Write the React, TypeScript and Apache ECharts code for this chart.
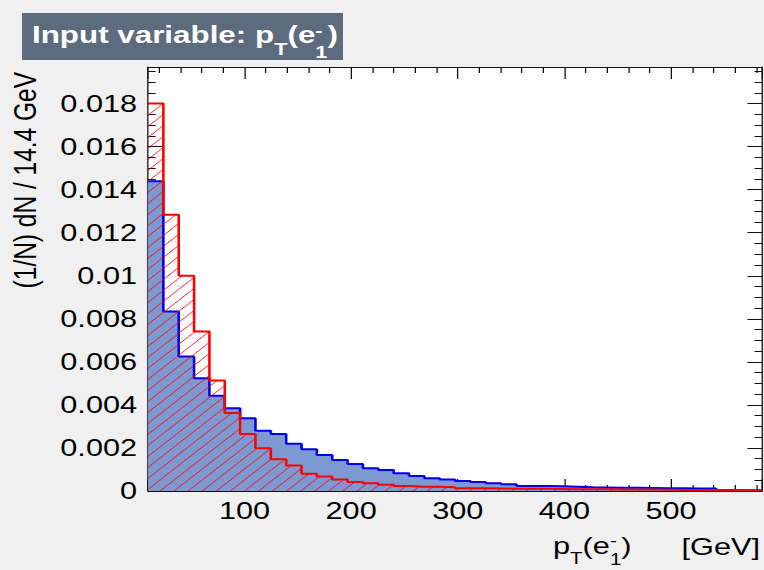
import React, { useEffect, useRef } from 'react';
import * as echarts from 'echarts';

// ---- Histogram definition (TMVA input-variable plot) ----
const X_MIN = 9.5;
const BIN_WIDTH = 14.4;
const N_BINS = 40;
const X_MAX = X_MIN + N_BINS * BIN_WIDTH;
const Y_MIN = 0;
const Y_MAX = 0.0197;
const Y_INTERVAL = 0.002;

// signal (blue, filled)
const signal = [
  0.01439, 0.00834, 0.00625, 0.00524, 0.00442, 0.00385, 0.00338, 0.0028, 0.00265, 0.00219,
  0.00194, 0.00167, 0.00144, 0.00126, 0.00106, 0.00098, 0.00082, 0.0007, 0.00059, 0.00054,
  0.00047, 0.00042, 0.00036, 0.00031, 0.00023, 0.00023, 0.00022, 0.0002, 0.00017, 0.00016,
  0.00015, 0.00015, 0.00014, 0.00013, 0.00013, 0.00012, 0.00012, 0.00005, 0.00004, 0.00004,
];
// background (red, hatched)
const background = [
  0.018, 0.01284, 0.01, 0.00741, 0.00513, 0.00362, 0.00265, 0.00199, 0.00148, 0.00118,
  0.0008, 0.00067, 0.00053, 0.00042, 0.00036, 0.00029, 0.00023, 0.0002, 0.0002, 0.00017,
  0.00013, 0.00013, 0.00012, 0.0001, 0.0001, 0.0001, 0.00009, 0.00008, 0.00008, 0.00008,
  0.00007, 0.00007, 0.00007, 0.00006, 0.00005, 0.00005, 0.00005, 0.00004, 0.00004, 0.00003,
];

const TITLE_MAIN = 'Input variable: p';
const Y_TITLE = '(1/N) dN / 14.4 GeV';
const X_UNIT = '[GeV]';

// ---- layout (the ROOT canvas is horizontally stretched) ----
const S = 1.28;
const PAGE_W = 764;
const PAGE_H = 570;
const W = PAGE_W / S;
const FONT = '"Liberation Sans", Arial, Helvetica, sans-serif';

const edges = Array.from({ length: N_BINS + 1 }, (_, i) => X_MIN + i * BIN_WIDTH);
const stepData = (vals: number[]) =>
  vals.map((v, i) => [edges[i], v]).concat([[edges[N_BINS], vals[N_BINS - 1]]]);

function hatchCanvas(d: number) {
  const c = document.createElement('canvas');
  c.width = d;
  c.height = d;
  const ctx = c.getContext('2d')!;
  ctx.strokeStyle = 'rgba(255,0,0,0.85)';
  ctx.lineWidth = 1;
  ctx.beginPath();
  ctx.moveTo(-1, d + 1);
  ctx.lineTo(d + 1, -1);
  ctx.moveTo(-1, 1);
  ctx.lineTo(1, -1);
  ctx.moveTo(d - 1, d + 1);
  ctx.lineTo(d + 1, d - 1);
  ctx.stroke();
  return c;
}

type Piece = { t: string; size: number; dy: number; advance?: boolean };

function textRow(pieces: Piece[], x0: number, base: number, color: string, bold: boolean) {
  const ctx = document.createElement('canvas').getContext('2d')!;
  const els: any[] = [];
  let x = x0;
  for (const p of pieces) {
    ctx.font = `${bold ? 'bold ' : ''}${p.size}px ${FONT}`;
    const w = ctx.measureText(p.t).width;
    els.push({
      type: 'text',
      x,
      y: base + p.dy - 0.3465 * p.size,
      silent: true,
      style: {
        text: p.t,
        fill: color,
        fontSize: p.size,
        fontWeight: bold ? 'bold' : 'normal',
        fontFamily: FONT,
        align: 'left',
        verticalAlign: 'middle',
      },
    });
    if (p.advance !== false) x += w;
  }
  return els;
}

const axisColor = '#111';

export default function App() {
  const ref = useRef<HTMLDivElement>(null);
  useEffect(() => {
    const chart = echarts.init(ref.current!, null, { renderer: 'svg' });
    const hd = 11;
    const pattern = { image: hatchCanvas(hd), repeat: 'repeat', imageWidth: hd, imageHeight: hd };

    const gridLeft = 148 / S;
    const gridRight = W - 762 / S;
    const gridTop = 67;
    const gridBottom = PAGE_H - 491;

    const xAxisBase = {
      type: 'value',
      min: X_MIN,
      max: X_MAX,
      splitNumber: 5,
      axisLine: { show: true, onZero: false, lineStyle: { color: axisColor, width: 1 } },
      axisTick: { show: true, inside: true, length: 12, lineStyle: { color: axisColor, width: 1 } },
      minorTick: { show: true, splitNumber: 5, length: 6, lineStyle: { color: axisColor, width: 1 } },
      splitLine: { show: false },
      minorSplitLine: { show: false },
    };
    const yAxisBase = {
      type: 'value',
      min: Y_MIN,
      max: Y_MAX,
      interval: Y_INTERVAL,
      axisLine: { show: true, onZero: false, lineStyle: { color: axisColor, width: 1 } },
      axisTick: { show: true, inside: true, length: 11.5, lineStyle: { color: axisColor, width: 1 } },
      minorTick: { show: true, splitNumber: 4, length: 6, lineStyle: { color: axisColor, width: 1 } },
      splitLine: { show: false },
      minorSplitLine: { show: false },
    };

    const titlePieces: Piece[] = [
      { t: TITLE_MAIN, size: 24.5, dy: 0 },
      { t: 'T', size: 17, dy: 12 },
      { t: '(e', size: 24.5, dy: 0 },
      { t: '-', size: 17, dy: -7, advance: false },
      { t: '1', size: 17, dy: 15 },
      { t: ')', size: 24.5, dy: 0 },
    ];
    const xTitlePieces: Piece[] = [
      { t: 'p', size: 24, dy: 0 },
      { t: 'T', size: 16, dy: 10 },
      { t: '(e', size: 24, dy: 0 },
      { t: '-', size: 16, dy: -8, advance: false },
      { t: '1', size: 16, dy: 10.5 },
      { t: ')', size: 24, dy: 0 },
    ];

    chart.setOption({
      animation: false,
      backgroundColor: '#f0f0f0',
      grid: {
        show: true,
        backgroundColor: '#ffffff',
        borderWidth: 0,
        left: gridLeft,
        right: gridRight,
        top: gridTop,
        bottom: gridBottom,
        containLabel: false,
      },
      xAxis: [
        {
          ...xAxisBase,
          position: 'bottom',
          axisLabel: {
            show: true,
            fontSize: 24,
            fontFamily: FONT,
            color: '#000',
            margin: 8,
            showMinLabel: false,
            showMaxLabel: false,
            formatter: (v: number) => (Math.abs(v % 100) < 1e-6 ? String(v) : ''),
          },
        },
        { ...xAxisBase, position: 'top', axisLabel: { show: false } },
      ],
      yAxis: [
        {
          ...yAxisBase,
          position: 'left',
          axisLabel: {
            show: true,
            fontSize: 24,
            fontFamily: FONT,
            color: '#000',
            margin: 8.5,
            showMaxLabel: false,
          },
        },
        { ...yAxisBase, position: 'right', axisLabel: { show: false } },
      ],
      series: [
        {
          name: 'Signal',
          type: 'line',
          step: 'end',
          data: stepData(signal),
          symbol: 'none',
          lineStyle: { color: '#0000ee', width: 2 },
          areaStyle: { color: '#7d99d1', opacity: 1 },
          z: 2,
        },
        {
          name: 'Background',
          type: 'line',
          step: 'end',
          data: stepData(background),
          symbol: 'none',
          lineStyle: { color: '#ff0000', width: 2 },
          areaStyle: { color: pattern, opacity: 1 },
          z: 3,
        },
      ],
      graphic: [
        {
          type: 'rect',
          silent: true,
          shape: { x: 22 / S, y: 13, width: 321 / S, height: 47 },
          style: { fill: '#5d6b7e' },
        },
        ...textRow(titlePieces, 32 / S, 43, '#ffffff', true),
        {
          type: 'text',
          silent: true,
          x: 25 / S,
          y: 72,
          rotation: Math.PI / 2,
          style: {
            text: Y_TITLE,
            fill: '#000',
            fontSize: 24.5,
            fontFamily: FONT,
            align: 'right',
            verticalAlign: 'middle',
          },
        },
        ...textRow(xTitlePieces, 553 / S, 554, '#000', false),
        {
          type: 'text',
          silent: true,
          x: 760 / S,
          y: 555 - 0.3465 * 24,
          style: {
            text: X_UNIT,
            fill: '#000',
            fontSize: 24,
            fontFamily: FONT,
            align: 'right',
            verticalAlign: 'middle',
          },
        },
      ],
    });
    return () => chart.dispose();
  }, []);

  return (
    <div
      style={{
        position: 'fixed',
        left: 0,
        top: 0,
        width: PAGE_W,
        height: PAGE_H,
        overflow: 'hidden',
        background: '#f0f0f0',
      }}
    >
      <div
        ref={ref}
        style={{ width: W, height: PAGE_H, transform: `scaleX(${S})`, transformOrigin: '0 0' }}
      />
    </div>
  );
}
